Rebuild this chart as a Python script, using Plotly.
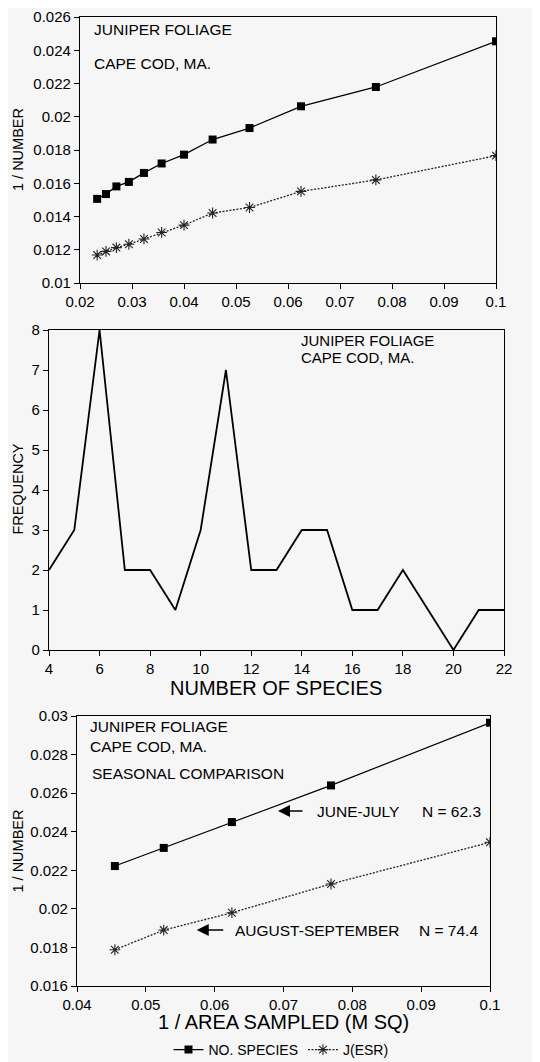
import plotly.graph_objects as go

# top panel: 1/area vs 1/number
area_inv = [0.0233, 0.025, 0.027, 0.0294, 0.0323, 0.0357, 0.04, 0.0455, 0.0526, 0.0625, 0.0769, 0.1]
species_inv = [0.01506, 0.01535, 0.01581, 0.01608, 0.01662, 0.01719, 0.01772, 0.01863, 0.01932, 0.02063, 0.02179, 0.02454]
jesr_inv = [0.01168, 0.0119, 0.01213, 0.01233, 0.01265, 0.01304, 0.01348, 0.01421, 0.01454, 0.01551, 0.0162, 0.01766]

# middle panel: frequency of number of species
n_species = [4, 5, 6, 7, 8, 9, 10, 11, 12, 13, 14, 15, 16, 17, 18, 19, 20, 21, 22]
frequency = [2, 3, 8, 2, 2, 1, 3, 7, 2, 2, 3, 3, 1, 1, 2, 1, 0, 1, 1]

# bottom panel: seasonal comparison
season_area_inv = [0.0455, 0.0526, 0.0625, 0.0769, 0.1]
june_july = [0.02222, 0.02316, 0.0245, 0.0264, 0.02965]
aug_sept = [0.01788, 0.0189, 0.0198, 0.02129, 0.02345]

W, H = 540, 1062
OFF = 8  # page body margin that the browser adds around the plot div
FONT = "Liberation Sans, Arial, sans-serif"
BG = "#f6f6f6"


def px_x(p):
    return (p - OFF) / W


def px_y(p):
    return 1 - (p - OFF) / H


fig = go.Figure()

sq = dict(symbol="square", size=8, color="black")
star = dict(symbol="asterisk-open", size=9, line=dict(color="black", width=1.1))
dotted = dict(color="#222", width=1.3, dash="2px,1.5px")

fig.add_trace(go.Scatter(x=area_inv, y=species_inv, mode="lines+markers", marker=sq,
                         line=dict(color="black", width=1.3), showlegend=False,
                         xaxis="x", yaxis="y"))
fig.add_trace(go.Scatter(x=area_inv, y=jesr_inv, mode="lines+markers", marker=star,
                         line=dotted, showlegend=False, xaxis="x", yaxis="y"))

fig.add_trace(go.Scatter(x=n_species, y=frequency, mode="lines",
                         line=dict(color="black", width=1.8), showlegend=False,
                         xaxis="x2", yaxis="y2"))

fig.add_trace(go.Scatter(x=season_area_inv, y=june_july, mode="lines+markers", marker=sq,
                         line=dict(color="black", width=1.2), name="NO. SPECIES",
                         xaxis="x3", yaxis="y3"))
fig.add_trace(go.Scatter(x=season_area_inv, y=aug_sept, mode="lines+markers", marker=star,
                         line=dotted, name="J(ESR)", xaxis="x3", yaxis="y3"))

axis_common = dict(showline=True, linecolor="black", linewidth=1.2, mirror=True,
                   ticks="outside", ticklen=5, tickcolor="black", showgrid=False,
                   zeroline=False, tickfont=dict(size=15, color="black"),
                   ticklabeloverflow="allow")

fig.update_layout(
    width=W, height=H,
    margin=dict(l=0, r=0, t=0, b=0, autoexpand=False),
    paper_bgcolor=BG, plot_bgcolor=BG,
    font=dict(family=FONT, color="black"),
    xaxis=dict(domain=[px_x(80), px_x(496)], range=[0.02, 0.1], dtick=0.01, anchor="y", **axis_common),
    yaxis=dict(domain=[px_y(283), px_y(17)], range=[0.01, 0.026], dtick=0.002, anchor="x", **axis_common),
    xaxis2=dict(domain=[px_x(49), px_x(504)], range=[4, 22], dtick=2, anchor="y2", **axis_common),
    yaxis2=dict(domain=[px_y(650), px_y(330)], range=[0, 8], dtick=1, anchor="x2", **axis_common),
    xaxis3=dict(domain=[px_x(77), px_x(490)], range=[0.04, 0.1], dtick=0.01, anchor="y3", **axis_common),
    yaxis3=dict(domain=[px_y(986), px_y(716)], range=[0.016, 0.03], dtick=0.002, anchor="x3", **axis_common),
    legend=dict(orientation="h", x=px_x(281), xanchor="center", y=px_y(1050), yanchor="middle",
                bgcolor="rgba(0,0,0,0)", font=dict(size=14)),
)


def label(text, x, y, size=15.5, xanchor="left", angle=0):
    fig.add_annotation(text=text, xref="paper", yref="paper", x=x, y=y, showarrow=False,
                       xanchor=xanchor, yanchor="middle", textangle=angle,
                       font=dict(size=size, color="black"))


# panel texts
label("JUNIPER FOLIAGE", px_x(92), px_y(30))
label("CAPE COD, MA.", px_x(92), px_y(64))
label("JUNIPER FOLIAGE", px_x(299), px_y(340.5), size=15)
label("CAPE COD, MA.", px_x(299), px_y(357), size=15)
label("JUNIPER FOLIAGE", px_x(88), px_y(726))
label("CAPE COD, MA.", px_x(88), px_y(746))
label("SEASONAL COMPARISON", px_x(90), px_y(773))
label("JUNE-JULY", px_x(315), px_y(811))
label("N = 62.3", px_x(420), px_y(811))
label("AUGUST-SEPTEMBER", px_x(233), px_y(930))
label("N = 74.4", px_x(417), px_y(930))

# axis titles
label("1 / NUMBER", px_x(18), px_y(150), size=14.5, xanchor="center", angle=-90)
label("FREQUENCY", px_x(17.5), px_y(489), size=14.5, xanchor="center", angle=-90)
label("NUMBER OF SPECIES", px_x(276), px_y(688), size=20, xanchor="center")
label("1 / NUMBER", px_x(17.5), px_y(851), size=14.5, xanchor="center", angle=-90)
label("1 / AREA SAMPLED (M SQ)", px_x(283), px_y(1022), size=20, xanchor="center")

# arrows pointing at the seasonal lines
fig.add_annotation(x=0.0692, y=0.02507, xref="x3", yref="y3", ax=26, ay=0, text="",
                   showarrow=True, arrowhead=2, arrowsize=1.6, arrowwidth=1.5, arrowcolor="black")
fig.add_annotation(x=0.0574, y=0.0189, xref="x3", yref="y3", ax=28, ay=0, text="",
                   showarrow=True, arrowhead=2, arrowsize=1.6, arrowwidth=1.5, arrowcolor="black")

fig.write_html("out.html")
